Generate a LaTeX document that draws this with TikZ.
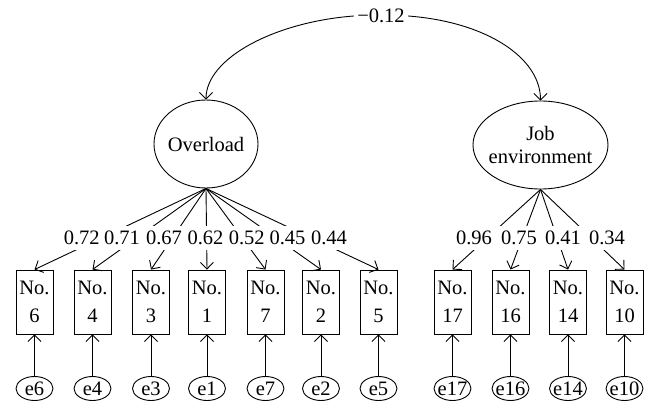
\documentclass[tikz,border=0pt]{standalone}
\usepackage{fontspec}
\setmainfont{Liberation Serif}
\usetikzlibrary{arrows.meta,shapes.geometric}
\begin{document}
\begin{tikzpicture}[x=1pt,y=-1pt,line width=0.9pt,
  every node/.style={font=\fontsize{20.5}{24}\selectfont},
  arr/.style={-{Straight Barb[length=6.5pt,width=13pt]}},
  latent/.style={ellipse,draw,inner sep=0pt,minimum height=88pt,
    font=\fontsize{20.5}{23}\selectfont},
  item/.style={rectangle,draw,minimum width=37pt,minimum height=64pt,
    inner sep=0pt,align=center,font=\fontsize{20.5}{28}\selectfont},
  err/.style={ellipse,draw,inner sep=0pt,minimum width=37pt,minimum height=24pt},
  load/.style={fill=white,inner xsep=5pt,inner ysep=5pt,
    text height=14pt,text depth=0pt}]
\path[use as bounding box] (0,0) rectangle (648,401);

% latent factors
\node[latent,minimum width=104pt] (over) at (206,144) {\makebox[20pt]{Overload}};
\node[latent,minimum width=135pt,align=center] (job) at (540.5,145)
  {\makebox[20pt]{Job}\\\makebox[20pt]{environment}};

% covariance between the factors
\node[inner xsep=3pt] (corr) at (381,16) {−0.12};
\draw[arr] (corr.west) .. controls (275,22) and (206,58) .. (over.north);
\draw[arr] (corr.east) .. controls (487,22) and (540.5,58) .. (job.north);

% observed items and their error terms
\foreach \n/\x in {6/34.5,4/92.5,3/151,1/207,7/265.5,2/321,5/378.5,
                   17/452.5,16/510.5,14/568,10/624.5}{
  \node[item] (i\n) at (\x,302) {No.\\\n};
  \node[err] (e\n) at (\x,388.5) {\makebox[16pt]{e\n}};
  \draw[arr] (e\n) -- (i\n);
}

% factor loadings
\foreach \n in {6,4,3,1,7,2,5}{\draw[arr] (over.south) -- (i\n.north);}
\foreach \n in {17,16,14,10}{\draw[arr] (job.south) -- (i\n.north);}

\foreach \v/\x in {0.72/81.8,0.71/122,0.67/164,0.62/205.5,0.52/246.7,
                   0.45/287.5,0.44/329,0.96/474,0.75/519,0.41/563,0.34/607}{
  \node[load] (l\x) at (\x,237.5) {\v};
}
\end{tikzpicture}
\end{document}
